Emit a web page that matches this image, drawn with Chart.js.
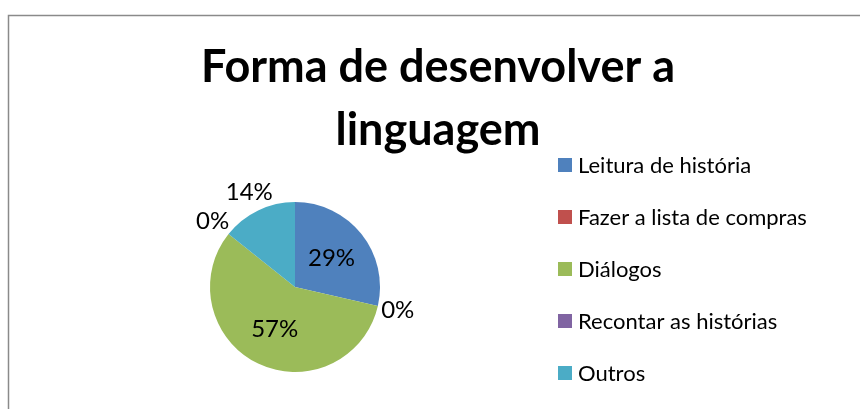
<!DOCTYPE html>
<html>
<head>
<meta charset="utf-8">
<script src="https://cdn.jsdelivr.net/npm/chart.js@4/dist/chart.umd.min.js"></script>
<style>
  body { margin: 0; background: #fff; }
  canvas { display: block; }
</style>
</head>
<body>
<canvas id="chart" width="860" height="409"></canvas>
<script>
const categories = ['Leitura de história', 'Fazer a lista de compras', 'Diálogos', 'Recontar as histórias', 'Outros'];
const values = [2, 0, 4, 0, 1];
const sliceColors = ['#4F81BD', '#C0504D', '#9BBB59', '#8064A2', '#4BACC6'];
const titleLines = ['Forma de desenvolver a', 'linguagem'];

const FONT = 'Lato, "Open Sans", sans-serif';

const ctx = document.getElementById('chart').getContext('2d');

// white background + the grey frame of the Excel chart
const framePlugin = {
  id: 'frame',
  beforeDraw(chart) {
    const c = chart.ctx;
    c.save();
    c.fillStyle = '#fff';
    c.fillRect(0, 0, chart.width, chart.height);
    c.strokeStyle = '#8a8a8a';
    c.lineWidth = 1.5;
    c.strokeRect(8.5, 15.5, 900, 500);
    c.restore();
  }
};

// title is centred on the whole frame, not on the pie area
const bigTitle = {
  id: 'bigTitle',
  afterDraw(chart) {
    const c = chart.ctx;
    c.save();
    c.font = 'bold 45px ' + FONT;
    c.fillStyle = '#000';
    c.textAlign = 'center';
    c.textBaseline = 'alphabetic';
    titleLines.forEach((line, i) => c.fillText(line, 438, 82 + i * 63));
    c.restore();
  }
};

// percentage labels, inside for big slices, outside for small ones
const pctLabels = {
  id: 'pctLabels',
  afterDatasetsDraw(chart) {
    const c = chart.ctx;
    const data = chart.data.datasets[0].data;
    const total = data.reduce((a, b) => a + b, 0);
    const arcs = chart.getDatasetMeta(0).data;
    c.save();
    c.font = '24px ' + FONT;
    c.fillStyle = '#000';
    c.textAlign = 'center';
    c.textBaseline = 'middle';
    arcs.forEach((arc, i) => {
      const share = data[i] / total;
      const mid = (arc.startAngle + arc.endAngle) / 2;
      const dist = share < 0.2 ? arc.outerRadius * 1.24 : arc.outerRadius * 0.55;
      const x = arc.x + Math.cos(mid) * dist;
      const y = arc.y + Math.sin(mid) * dist;
      c.fillText(Math.round(share * 100) + '%', x, y);
    });
    c.restore();
  }
};

// legend on the right, square markers
const sideLegend = {
  id: 'sideLegend',
  afterDraw(chart) {
    const c = chart.ctx;
    const ds = chart.data.datasets[0];
    c.save();
    c.font = '22px ' + FONT;
    c.textBaseline = 'middle';
    chart.data.labels.forEach((label, i) => {
      const y = 165 + i * 52;
      c.fillStyle = ds.backgroundColor[i];
      c.fillRect(558, y - 7, 14, 14);
      c.fillStyle = '#000';
      c.fillText(label, 578, y + 1);
    });
    c.restore();
  }
};

const chart = new Chart(ctx, {
  type: 'pie',
  data: {
    labels: categories,
    datasets: [{
      data: values,
      backgroundColor: sliceColors,
      borderWidth: 0,
      radius: 85
    }]
  },
  options: {
    responsive: false,
    animation: false,
    layout: {
      padding: { left: 0, right: 270, top: 172.5, bottom: 7.5 }
    },
    plugins: {
      legend: { display: false },
      tooltip: { enabled: false },
      title: { display: false }
    }
  },
  plugins: [framePlugin, pctLabels, sideLegend, bigTitle]
});
</script>
</body>
</html>
